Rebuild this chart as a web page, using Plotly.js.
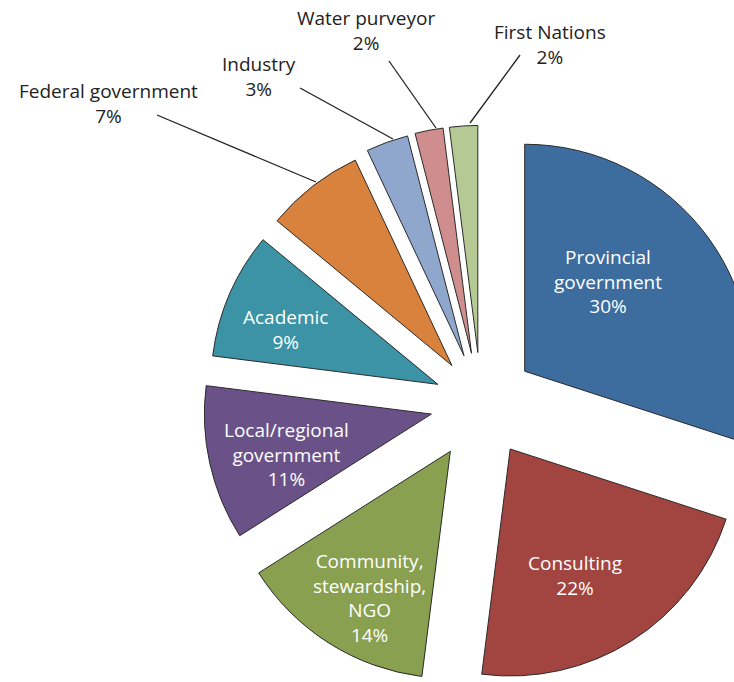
<!DOCTYPE html>
<html><head><meta charset="utf-8">
<script src="https://cdn.plot.ly/plotly-3.0.1.min.js"></script>
<style>html,body{margin:0;padding:0;overflow:hidden;background:#fff}#chart{width:800px;height:720px}</style>
</head><body><div id="chart"></div>
<script>
// ---- data ----
const categories = ['Provincial government','Consulting','Community, stewardship, NGO','Local/regional government','Academic','Federal government','Industry','Water purveyor','First Nations'];
const shares = [30, 22, 14, 11, 9, 7, 3, 2, 2];
const displayLabels = ['Provincial<br>government','Consulting','Community,<br>stewardship,<br>NGO','Local/regional<br>government','Academic','Federal government','Industry','Water purveyor','First Nations'];

// ---- styling / layout ----
const colors = ['#3D6C9E','#A24541','#88A04F','#6A5289','#3B93A5','#D8823D','#8FA6CD','#CF8E8D','#B5C994'];
const pulls = [0.238, 0.240, 0.252, 0.224, 0.207, 0.209, 0.221, 0.223, 0.223];
const W = 800, H = 720, CX = 481, CY = 403, R = 227;
const maxPull = Math.max(...pulls);
const half = R * (1 + maxPull);
const FONT = 'Open Sans, Noto Sans, sans-serif';
const FSIZE = 19;

const trace = {
  type: 'pie',
  labels: categories,
  values: shares,
  sort: false,
  direction: 'clockwise',
  rotation: 0,
  pull: pulls,
  domain: {x: [(CX - half) / W, (CX + half) / W], y: [1 - (CY + half) / H, 1 - (CY - half) / H]},
  marker: {colors: colors, line: {color: '#2a2a2a', width: 1}},
  textinfo: 'none',
  hoverinfo: 'none',
  showlegend: false
};

// label block centres (px), inside = white text in slice, outside = dark text with leader line
const labelPos = [[608, 282], [575, 575], [369, 598], [286, 454], [285, 330], [108, 104], [259, 77], [366, 31], [550, 44]];
const labelInside = [true, true, true, true, true, false, false, false, false];
const leaderLines = {5: [157, 115, 316, 182], 6: [300, 88, 393, 139], 7: [389, 61, 436, 128], 8: [520, 55, 470, 123]};

const px = x => x / W, py = y => 1 - y / H;
const annotations = [], shapes = [];
categories.forEach((c, i) => {
  const [x0, y0] = labelPos[i];
  annotations.push({
    xref: 'paper', yref: 'paper', x: px(x0), y: py(y0), xanchor: 'center', yanchor: 'middle',
    showarrow: false, align: 'center', borderpad: 0,
    text: displayLabels[i] + '<br>' + shares[i] + '%',
    font: {family: FONT, size: FSIZE, color: labelInside[i] ? '#ffffff' : '#222222'}
  });
  if (leaderLines[i]) {
    const l = leaderLines[i];
    shapes.push({type: 'line', xref: 'paper', yref: 'paper', x0: px(l[0]), y0: py(l[1]), x1: px(l[2]), y1: py(l[3]),
      line: {color: '#222222', width: 1.3}});
  }
});

const layout = {
  width: W, height: H,
  margin: {l: 0, r: 0, t: 0, b: 0},
  paper_bgcolor: '#ffffff',
  showlegend: false,
  annotations: annotations,
  shapes: shapes
};
Plotly.newPlot('chart', [trace], layout, {displayModeBar: false, staticPlot: true});
</script></body></html>
